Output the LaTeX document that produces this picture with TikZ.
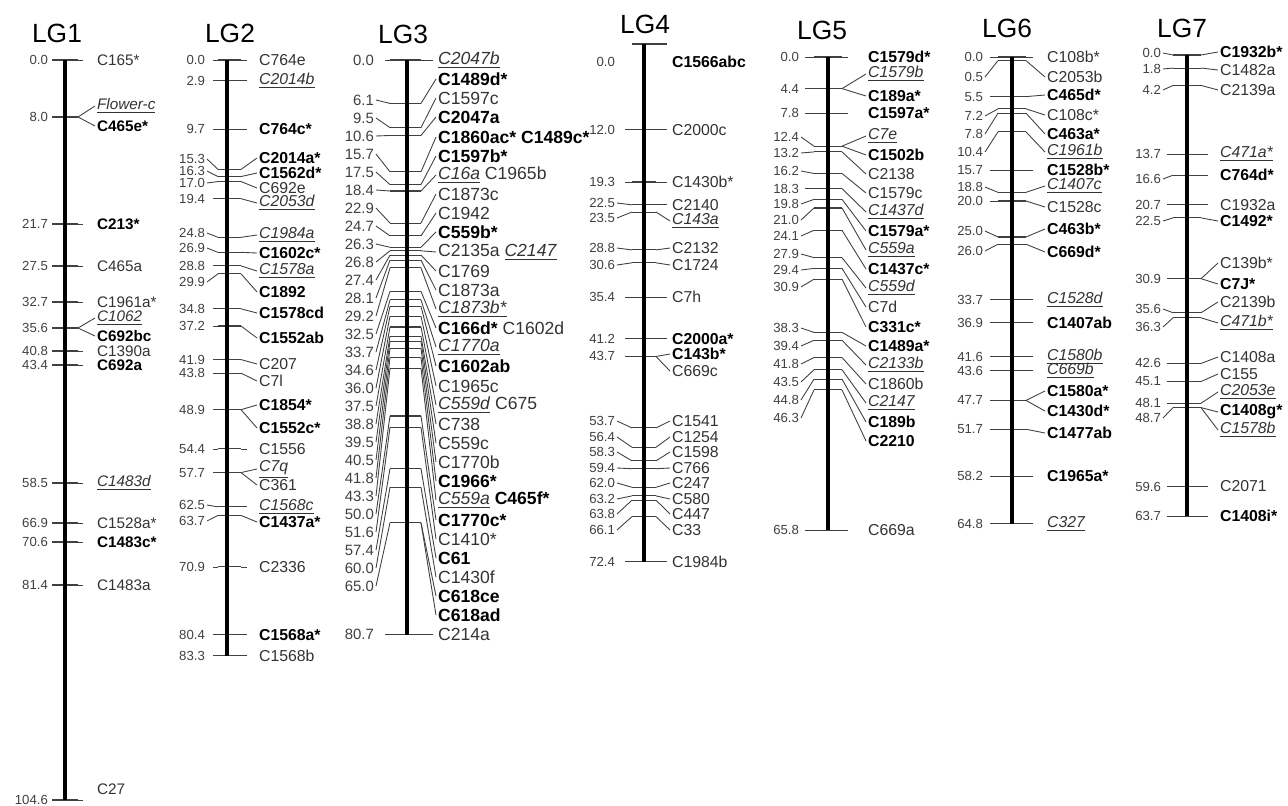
\documentclass[tikz,border=0pt]{standalone}
\usepackage{fontspec}
\setmainfont{Liberation Sans}
\usetikzlibrary{positioning}

\newcounter{lab}
\newcommand\B[1]{\textbf{\color{black}#1}}
\newcommand\U[1]{\underline{\textit{#1}}}
% current group: bar x, y at 0 cM, px per cM, tick left/right, straight line ends left/right, number x, label x
\newcommand\setlg[9]{\def\gbx{#1}\def\gyz{#2}\def\gk{#3}\def\gtl{#4}\def\gtr{#5}\def\gsl{#6}\def\gsr{#7}\def\gnx{#8}\def\glx{#9}}
% font sizes of numbers and loci
\def\gnfs{7.5}\def\glfs{9}
% tick drawn at \tyy: name, position text, y of the number (0 = level with the tick)
\newcommand\tkdraw[3]{%
  \expandafter\xdef\csname ty#1\endcsname{\tyy}%
  \coordinate (#1l) at (\gbx-\gtl,\tyy);
  \coordinate (#1r) at (\gbx+\gtr,\tyy);
  \draw[tick] (#1l) -- (#1r);
  \ifdim #3pt=0pt
    \coordinate (#1s) at (\gsl,\tyy);
    \node[num] (#1n) at (\gnx,\tyy) {#2};
    \draw[conn] (#1l) -- (#1s);
  \else
    \node[num] (#1n) at (\gnx,#3) {#2};
    \draw[conn] (#1l) -- (#1n.east);
  \fi
}
% tick placed by cM: name, cM, y of the number
\newcommand\tk[3]{\pgfmathsetmacro\tyy{\gyz+\gk*#2}\tkdraw{#1}{#2}{#3}}
% tick placed by hand: name, cM, y of the tick, y of the number
\newcommand\tkat[4]{\def\tyy{#3}\tkdraw{#1}{#2}{#4}}
% locus: tick name, y of the label (0 = level with the tick), text
\newcommand\lb[3]{%
  \edef\tyy{\csname ty#1\endcsname}%
  \stepcounter{lab}%
  \ifdim #2pt=0pt
    \node[lab] (m\thelab) at (\glx,\tyy) {#3};
    \coordinate (s\thelab) at (\gsr,\tyy);
    \draw[conn] (#1r) -- (s\thelab);
  \else
    \node[lab] (m\thelab) at (\glx,#2) {#3};
    \draw[conn] (#1r) -- (m\thelab.west);
  \fi
}
% bar of the current group, length in cM
\newcommand\lgbar[1]{\draw[bar] (\gbx,\gyz) -- (\gbx,{\gyz+\gk*#1});}

\begin{document}
\begin{tikzpicture}[x=0.02cm, y=-0.02cm,
    tick/.style={draw=black!75, line width=0.6pt},
    conn/.style={draw=black!75, line width=0.5pt},
    bar/.style={draw=black, line width=2.4pt},
    num/.style={anchor=east, inner sep=1pt, text=black!75, font=\fontsize{\gnfs}{\gnfs}\selectfont},
    lab/.style={anchor=west, inner sep=1pt, text=black!80, font=\fontsize{\glfs}{\glfs}\selectfont},
    lgname/.style={font=\fontsize{15}{16}\selectfont}
]
\useasboundingbox (0,0) rectangle (1288,805);

% LG1
\def\glfs{8.7}
\setlg{65}{60}{7.07}{13}{13}{52}{83}{50}{95}
\node[lgname] (lg1) at (57,33) {LG1};
\tkat{a0}{0.0}{60}{0}\lb{a0}{0}{C165*}
\tkat{a1}{8.0}{117}{0}\lb{a1}{106}{\U{Flower-c}}\lb{a1}{126}{\B{C465e*}}
\tkat{a2}{21.7}{224}{0}\lb{a2}{0}{\B{C213*}}
\tkat{a3}{27.5}{266}{0}\lb{a3}{0}{C465a}
\tkat{a4}{32.7}{302}{0}\lb{a4}{0}{C1961a*}
\tkat{a5}{35.6}{328}{0}\lb{a5}{318}{\U{C1062}}\lb{a5}{336}{\B{C692bc}}
\tkat{a6}{40.8}{351}{0}\lb{a6}{0}{C1390a}
\tkat{a7}{43.4}{365}{0}\lb{a7}{0}{\B{C692a}}
\tkat{a8}{58.5}{483}{0}\lb{a8}{0}{\U{C1483d}}
\tkat{a9}{66.9}{523}{0}\lb{a9}{0}{C1528a*}
\tkat{a10}{70.6}{542}{0}\lb{a10}{0}{\B{C1483c*}}
\tkat{a11}{81.4}{585}{0}\lb{a11}{0}{C1483a}
\tkat{a12}{104.6}{800}{0}
\draw[conn] (a12r) -- ++(5,0);
\node[lab, anchor=south west] (a12m) at (\glx,797) {C27};
\lgbar{104.6}
\def\glfs{9}

% LG2
\setlg{227}{60}{7.15}{9}{14}{213}{247}{207}{257}
\node[lgname] (lg2) at (230,33) {LG2};
\tk{b0}{0.0}{0}\lb{b0}{0}{C764e}
\tk{b1}{2.9}{0}\lb{b1}{0}{\U{C2014b}}
\tk{b2}{9.7}{0}\lb{b2}{0}{\B{C764c*}}
\tk{b3}{15.3}{159}\lb{b3}{158}{\B{C2014a*}}
\tk{b4}{16.3}{171}\lb{b4}{173}{\B{C1562d*}}
\tk{b5}{17.0}{183}\lb{b5}{188}{C692e}
\tk{b6}{19.4}{0}\lb{b6}{203}{\U{C2053d}}
\tk{b7}{24.8}{233}\lb{b7}{235}{\U{C1984a}}
\tk{b8}{26.9}{248}\lb{b8}{253}{\B{C1602c*}}
\tk{b9}{28.8}{0}\lb{b9}{271}{\U{C1578a}}
\tk{b10}{29.9}{282}\lb{b10}{292}{\B{C1892}}
\tk{b11}{34.8}{0}\lb{b11}{313}{\B{C1578cd}}
\tk{b12}{37.2}{0}\lb{b12}{338}{\B{C1552ab}}
\tk{b13}{41.9}{0}\lb{b13}{364}{C207}
\tk{b14}{43.8}{0}\lb{b14}{381}{C7l}
\tk{b15}{48.9}{0}\lb{b15}{405}{\B{C1854*}}\lb{b15}{428}{\B{C1552c*}}
\tk{b16}{54.4}{0}\lb{b16}{0}{C1556}
\tk{b17}{57.7}{0}\lb{b17}{469}{\U{C7q}}\lb{b17}{485}{C361}
\tk{b18}{62.5}{505}\lb{b18}{0}{\U{C1568c}}
\tk{b19}{63.7}{521}\lb{b19}{522}{\B{C1437a*}}
\tk{b20}{70.9}{0}\lb{b20}{0}{C2336}
\tk{b21}{80.4}{0}\lb{b21}{0}{\B{C1568a*}}
\tk{b22}{83.3}{0}\lb{b22}{0}{C1568b}
\lgbar{83.3}

% LG3
\def\gnfs{8.5}\def\glfs{10}
\setlg{407}{60}{7.12}{17}{14}{385}{433}{376}{436}
\node[lgname] (lg3) at (403,34) {LG3};
\tk{c0}{0.0}{0}\lb{c0}{0}{\U{C2047b}}
\tk{c1}{6.1}{100}\lb{c1}{79}{\B{C1489d*}}
\tk{c2}{9.5}{118}\lb{c2}{98}{C1597c}
\tk{c3}{10.6}{136}\lb{c3}{117}{\B{C2047a}}
\tk{c4}{15.7}{154}\lb{c4}{137}{\B{C1860ac* C1489c*}}
\tk{c5}{17.5}{172}\lb{c5}{156}{\B{C1597b*}}
\tk{c6}{18.4}{190}\lb{c6}{175}{\U{C16a} C1965b}
\tk{c7}{22.9}{208}\lb{c7}{194}{C1873c}
\tk{c8}{24.7}{226}\lb{c8}{213}{C1942}
\tk{c9}{26.3}{244}\lb{c9}{232}{\B{C559b*}}
\tk{c10}{26.8}{262}\lb{c10}{252}{C2135a \U{C2147}}
\tk{c11}{27.4}{280}\lb{c11}{271}{C1769}
\tk{c12}{28.1}{298}\lb{c12}{290}{C1873a}
\tk{c13}{29.2}{316}\lb{c13}{309}{\U{C1873b*}}
\tk{c14}{32.5}{334}\lb{c14}{328}{\B{C166d*} C1602d}
\tk{c15}{33.7}{352}\lb{c15}{347}{\U{C1770a}}
\tk{c16}{34.6}{370}\lb{c16}{366}{\B{C1602ab}}
\tk{c17}{36.0}{388}\lb{c17}{386}{C1965c}
\tk{c18}{37.5}{406}\lb{c18}{405}{\U{C559d} C675}
\tk{c19}{38.8}{424}\lb{c19}{424}{C738}
\tk{c20}{39.5}{442}\lb{c20}{443}{C559c}
\tk{c21}{40.5}{460}\lb{c21}{462}{C1770b}
\tk{c22}{41.8}{478}\lb{c22}{481}{\B{C1966*}}
\tk{c23}{43.3}{496}\lb{c23}{500}{\U{C559a} \B{C465f*}}
\tk{c24}{50.0}{514}\lb{c24}{520}{\B{C1770c*}}
\tk{c25}{51.6}{532}\lb{c25}{539}{C1410*}
\tk{c26}{57.4}{550}\lb{c26}{558}{\B{C61}}
\tk{c27}{60.0}{568}\lb{c27}{577}{C1430f}
\tk{c28}{65.0}{586}\lb{c28}{596}{\B{C618ce}}\lb{c28}{615}{\B{C618ad}}
\tk{c29}{80.7}{0}\lb{c29}{0}{C214a}
\lgbar{80.7}
\def\gnfs{7.5}\def\glfs{9}

% LG4
\setlg{644}{44}{7.15}{12}{12}{625}{667}{617}{670}
\node[lgname] (lg4) at (645,24) {LG4};
\coordinate (d0l) at (632,44);
\coordinate (d0r) at (667,44);
\draw[tick] (d0l) -- (d0r);
\node[num] (d0n) at (\gnx,62) {0.0};
\node[lab] (d0m) at (\glx,62) {\B{C1566abc}};
\tk{d1}{12.0}{0}\lb{d1}{0}{C2000c}
\tk{d2}{19.3}{0}\lb{d2}{0}{C1430b*}
\tk{d3}{22.5}{203}\lb{d3}{0}{C2140}
\tk{d4}{23.5}{218}\lb{d4}{221}{\U{C143a}}
\tk{d5}{28.8}{248}\lb{d5}{248}{C2132}
\tk{d6}{30.6}{265}\lb{d6}{265}{C1724}
\tk{d7}{35.4}{0}\lb{d7}{0}{C7h}
\tk{d8}{41.2}{0}\lb{d8}{0}{\B{C2000a*}}
\tk{d9}{43.7}{0}\lb{d9}{354}{\B{C143b*}}\lb{d9}{371}{C669c}
\tk{d10}{53.7}{421}\lb{d10}{421}{C1541}
\tk{d11}{56.4}{437}\lb{d11}{437}{C1254}
\tk{d12}{58.3}{452}\lb{d12}{452}{C1598}
\tk{d13}{59.4}{468}\lb{d13}{468}{C766}
\tk{d14}{62.0}{483}\lb{d14}{483}{C247}
\tk{d15}{63.2}{499}\lb{d15}{499}{C580}
\tk{d16}{63.8}{514}\lb{d16}{514}{C447}
\tk{d17}{66.1}{530}\lb{d17}{530}{C33}
\tk{d18}{72.4}{0}\lb{d18}{0}{C1984b}
\lgbar{72.4}

% LG5
\setlg{828}{57}{7.19}{14}{14}{805}{848}{801}{866}
\node[lgname] (lg5) at (822,30) {LG5};
\tk{e0}{0.0}{0}\lb{e0}{0}{\B{C1579d*}}
\tk{e1}{4.4}{0}\lb{e1}{74}{\U{C1579b}}\lb{e1}{96}{\B{C189a*}}
\tk{e2}{7.8}{0}\lb{e2}{0}{\B{C1597a*}}
\tk{e3}{12.4}{137}\lb{e3}{136}{\U{C7e}}\lb{e3}{155}{\B{C1502b}}
\tk{e4}{13.2}{153}\lb{e4}{174}{C2138}
\tk{e5}{16.2}{171}\lb{e5}{193}{C1579c}
\tk{e6}{18.3}{0}\lb{e6}{212}{\U{C1437d}}
\tk{e7}{19.8}{204}\lb{e7}{231}{\B{C1579a*}}
\tk{e8}{21.0}{220}\lb{e8}{250}{\U{C559a}}
\tk{e9}{24.1}{236}\lb{e9}{269}{\B{C1437c*}}
\tk{e10}{27.9}{254}\lb{e10}{288}{\U{C559d}}
\tk{e11}{29.4}{270}\lb{e11}{307}{C7d}
\tk{e12}{30.9}{287}\lb{e12}{327}{\B{C331c*}}
\tk{e13}{38.3}{328}\lb{e13}{346}{\B{C1489a*}}
\tk{e14}{39.4}{346}\lb{e14}{365}{\U{C2133b}}
\tk{e15}{41.8}{364}\lb{e15}{384}{C1860b}
\tk{e16}{43.5}{382}\lb{e16}{403}{\U{C2147}}
\tk{e17}{44.8}{400}\lb{e17}{422}{\B{C189b}}
\tk{e18}{46.3}{418}\lb{e18}{441}{\B{C2210}}
\tk{e19}{65.8}{0}\lb{e19}{0}{C669a}
\lgbar{65.8}

% LG6
\setlg{1012}{57}{7.2}{14}{14}{990}{1033}{985}{1045}
\node[lgname] (lg6) at (1007,28) {LG6};
\tk{f0}{0.0}{0}\lb{f0}{0}{C108b*}
\tk{f1}{0.5}{77}\lb{f1}{77}{C2053b}
\tk{f2}{5.5}{0}\lb{f2}{95}{\B{C465d*}}
\tk{f3}{7.2}{116}\lb{f3}{115}{C108c*}
\tk{f4}{7.8}{134}\lb{f4}{134}{\B{C463a*}}
\tk{f5}{10.4}{152}\lb{f5}{152}{\U{C1961b}}
\tk{f6}{15.7}{0}\lb{f6}{0}{\B{C1528b*}}
\tk{f7}{18.8}{187}\lb{f7}{186}{\U{C1407c}}
\tk{f8}{20.0}{0}\lb{f8}{207}{C1528c}
\tk{f9}{25.0}{231}\lb{f9}{229}{\B{C463b*}}
\tk{f10}{26.0}{251}\lb{f10}{252}{\B{C669d*}}
\tk{f11}{33.7}{0}\lb{f11}{0}{\U{C1528d}}
\tk{f12}{36.9}{0}\lb{f12}{0}{\B{C1407ab}}
\tk{f13}{41.6}{0}\lb{f13}{0}{\U{C1580b}}
\tk{f14}{43.6}{0}\lb{f14}{0}{\U{C669b}}
\tk{f15}{47.7}{0}\lb{f15}{391}{\B{C1580a*}}\lb{f15}{411}{\B{C1430d*}}
\tk{f16}{51.7}{0}\lb{f16}{433}{\B{C1477ab}}
\tk{f17}{58.2}{0}\lb{f17}{0}{\B{C1965a*}}
\tk{f18}{64.8}{0}\lb{f18}{0}{\U{C327}}
\lgbar{64.8}

% LG7
\setlg{1187}{55}{7.24}{14}{14}{1167}{1208}{1163}{1218}
\node[lgname] (lg7) at (1182,28) {LG7};
\tk{g0}{0.0}{53}\lb{g0}{52}{\B{C1932b*}}
\tk{g1}{1.8}{69}\lb{g1}{70}{C1482a}
\tk{g2}{4.2}{90}\lb{g2}{90}{C2139a}
\tk{g3}{13.7}{0}\lb{g3}{0}{\U{C471a*}}
\tk{g4}{16.6}{179}\lb{g4}{0}{\B{C764d*}}
\tk{g5}{20.7}{0}\lb{g5}{0}{C1932a}
\tk{g6}{22.5}{221}\lb{g6}{221}{\B{C1492*}}
\tk{g7}{30.9}{0}\lb{g7}{263}{C139b*}\lb{g7}{284}{\B{C7J*}}
\tk{g8}{35.6}{309}\lb{g8}{302}{C2139b}
\tk{g9}{36.3}{327}\lb{g9}{323}{\U{C471b*}}
\tk{g10}{42.6}{0}\lb{g10}{357}{C1408a}
\tk{g11}{45.1}{0}\lb{g11}{374}{C155}
\tk{g12}{48.1}{0}\lb{g12}{392}{\U{C2053e}}
\tk{g13}{48.7}{418}\lb{g13}{412}{\B{C1408g*}}\lb{g13}{430}{\U{C1578b}}
\tk{g14}{59.6}{0}\lb{g14}{0}{C2071}
\tk{g15}{63.7}{0}\lb{g15}{0}{\B{C1408i*}}
\lgbar{63.7}

\end{tikzpicture}
\end{document}
